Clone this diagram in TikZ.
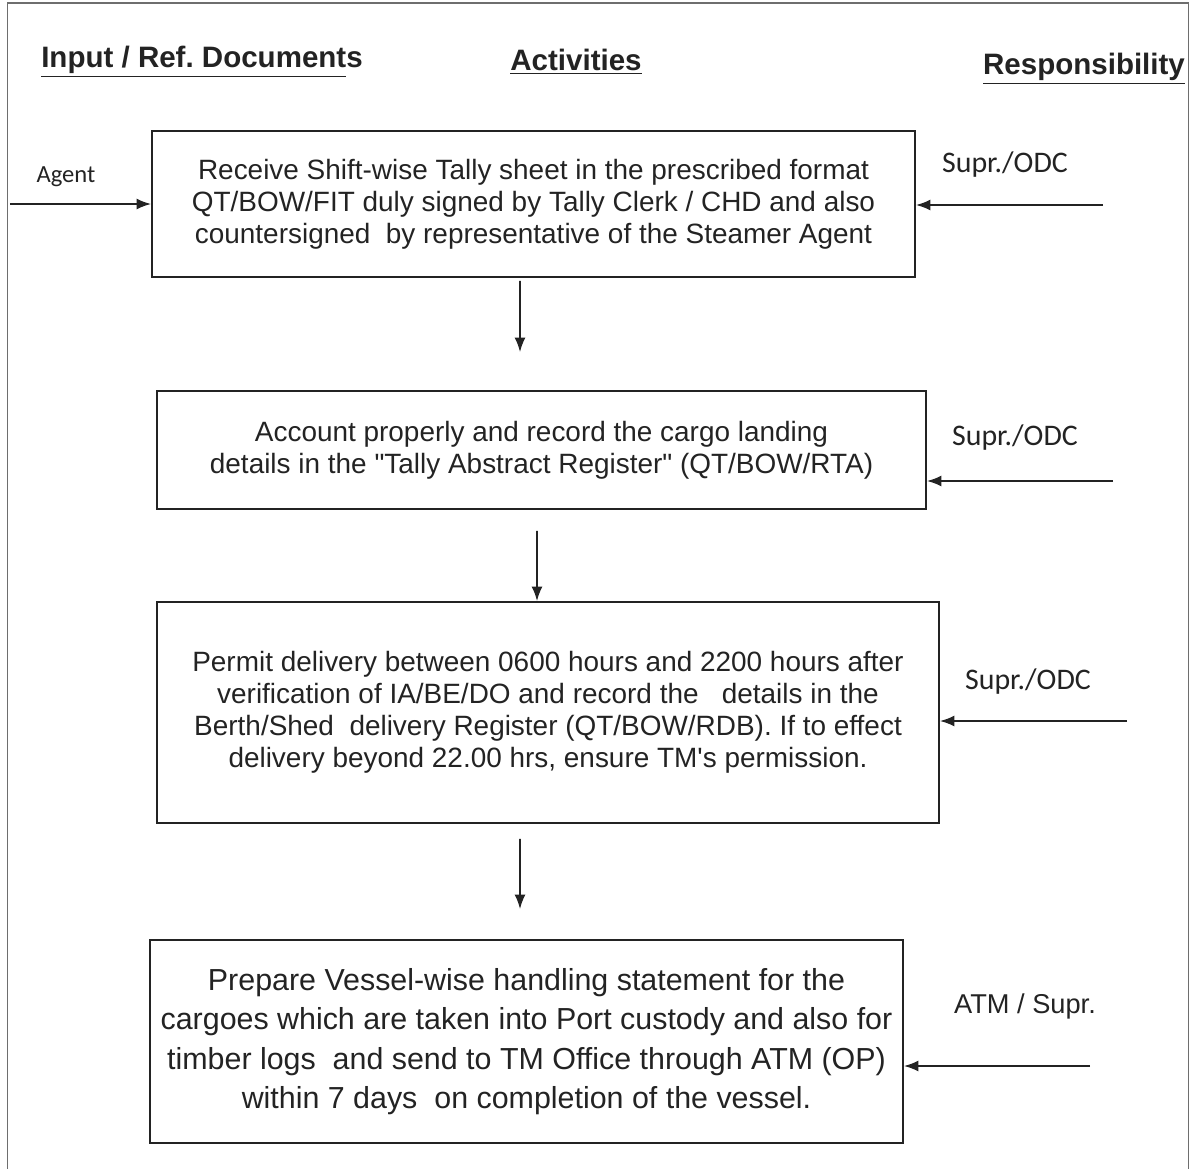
\documentclass[tikz,border=0pt]{standalone}
\usepackage{fontspec}
\setmainfont{Liberation Sans}
\newfontfamily\calfont{Carlito}
\usepackage{xcolor}
\usepackage{tikz}
\usetikzlibrary{arrows.meta, positioning, calc}
\definecolor{inkcolor}{RGB}{35, 35, 35}
\definecolor{framecolor}{RGB}{110, 110, 110}
\frenchspacing

\begin{document}
\begin{tikzpicture}[
    node distance=1cm and 1.5cm,
    activity/.style={draw=inkcolor, line width=1.1pt, align=center, text=inkcolor, minimum width=15.3cm, minimum height=2.4cm, inner sep=2pt, font=\fontsize{15.9pt}{18.2pt}\selectfont},
    heading/.style={font=\fontsize{16.8pt}{20pt}\selectfont\bfseries, text=inkcolor},
    who/.style={font=\calfont\fontsize{17pt}{20pt}\selectfont, text=inkcolor},
    flow/.style={draw=inkcolor, line width=0.9pt, -{Latex[length=2.9mm, width=2.2mm]}},
]
    \useasboundingbox (0, 0) rectangle (23.98, -23.38);
    % Frame
    \draw[framecolor, line width=1.1pt] (0.15, -23.4) -- (0.15, -0.06) -- (23.77, -0.06) -- (23.77, -23.4);

    % Headings
    \node[heading] (h-input) at (4.04, -1.24) {\underline{Input / Ref. Document}s};
    \node[heading] (h-act) at (11.52, -1.24) {\underline{Activities}};
    \node[heading] (h-resp) at (21.68, -1.38) {\underline{Responsibility}};

    % Activities
    \node[activity, minimum width=15.26cm, minimum height=2.92cm] (tally) at (10.67, -4.08)
        {Receive Shift-wise Tally sheet in the prescribed format\\
         QT/BOW/FIT duly signed by Tally Clerk / CHD and also\\
         countersigned~ by representative of the Steamer Agent};
    \node[activity, minimum width=15.38cm, minimum height=2.36cm] (record) at (10.83, -9.0)
        {Account properly and record the cargo landing\\
         details in the \textquotedbl Tally Abstract Register\textquotedbl{} (QT/BOW/RTA)};
    \node[activity, minimum width=15.64cm, minimum height=4.42cm] (deliver) at (10.96, -14.25)
        {Permit delivery between 0600 hours and 2200 hours after\\
         verification of IA/BE/DO and record the~~ details in the\\
         Berth/Shed~ delivery Register (QT/BOW/RDB). If to effect\\
         delivery beyond 22.00 hrs, ensure TM\textquotesingle s permission.};
    \node[activity, minimum width=15.06cm, minimum height=4.06cm, font=\fontsize{17.3pt}{22.4pt}\selectfont] (statement) at (10.53, -20.83)
        {Prepare Vessel-wise handling statement for the\\
         cargoes which are taken into Port custody and also for\\
         timber logs~ and send to TM Office through ATM (OP)\\
         within 7 days~ on completion of the vessel.};

    % Input side
    \node[font=\calfont\fontsize{14pt}{16pt}\selectfont, text=inkcolor] (agent) at (1.32, -3.54) {Agent};
    \coordinate (agent-in) at (0.2, -4.08);
    \draw[flow] (agent-in) -- (tally.west);

    % Responsibility side
    \node[who] (resp-tally) at (20.1, -3.3) {Supr./ODC};
    \node[who] (resp-record) at (20.3, -8.76) {Supr./ODC};
    \node[who] (resp-deliver) at (20.56, -13.64) {Supr./ODC};
    \node[font=\fontsize{15.5pt}{18pt}\selectfont, text=inkcolor] (resp-statement) at (20.5, -20.12) {ATM / Supr.};
    \coordinate (r-tally) at (22.06, -4.1);
    \coordinate (r-record) at (22.26, -9.62);
    \coordinate (r-deliver) at (22.54, -14.42);
    \coordinate (r-statement) at (21.8, -21.32);
    \draw[flow] (r-tally) -- (r-tally -| tally.east);
    \draw[flow] (r-record) -- (r-record -| record.east);
    \draw[flow] (r-deliver) -- (r-deliver -| deliver.east);
    \draw[flow] (r-statement) -- (r-statement -| statement.east);

    % Down the flow
    \draw[flow, shorten <=0.06cm, shorten >=0.76cm] ([xshift=-0.27cm]tally.south) -- ([xshift=-0.43cm]record.north);
    \draw[flow, shorten <=0.42cm] ([xshift=-0.09cm]record.south) -- ([xshift=-0.22cm]deliver.north);
    \draw[flow, shorten <=0.3cm, shorten >=0.6cm] ([xshift=-0.56cm]deliver.south) -- ([xshift=-0.13cm]statement.north);
\end{tikzpicture}
\end{document}
